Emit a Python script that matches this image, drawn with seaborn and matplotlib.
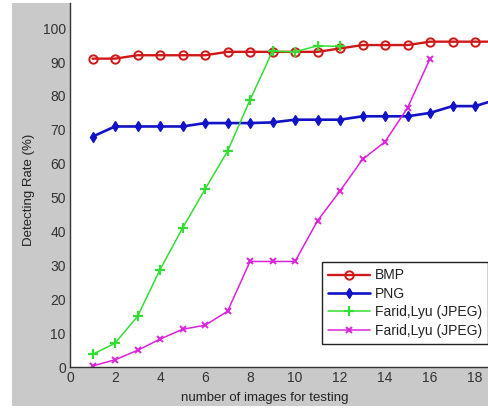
import matplotlib
matplotlib.use("Agg")
import matplotlib.pyplot as plt
import seaborn as sns
import pandas as pd
from matplotlib.patches import Rectangle

sns.set_style("white")
plt.rcParams['font.family'] = ['Liberation Sans', 'DejaVu Sans']

x_bmp = list(range(1, 20))
bmp = [91, 91, 92, 92, 92, 92, 93, 93, 93, 93, 93, 94, 95, 95, 95, 96, 96, 96, 96]
x_png = list(range(1, 20))
png = [68, 71, 71, 71, 71, 72, 72, 72, 72.2, 73, 73, 73, 74, 74, 74, 75, 77, 77, 79]
x_green = list(range(1, 13))
green = [3.8, 7.1, 15, 28.8, 41, 52.5, 63.7, 78.8, 93.2, 93, 94.8, 94.6]
x_mag = list(range(1, 17))
magenta = [0.4, 2.2, 5, 8.3, 11.2, 12.4, 16.5, 31.2, 31.2, 31.2, 43.2, 52, 61.3, 66.5, 76.5, 91]
labels = ["BMP", "PNG", "Farid,Lyu (JPEG)", "Farid,Lyu (JPEG)"]

W, H = 489, 408
fig = plt.figure(figsize=(W / 100, H / 100), dpi=100, facecolor='white')
fig.patches.append(Rectangle((12 / W, 2 / H), 1 - 12 / W, (405 - 2) / H,
                             transform=fig.transFigure, facecolor='#c9c9c9',
                             edgecolor='none', zorder=-10))
ax = fig.add_axes([70 / W, (H - 367.3) / H, (W - 70) / W, (367.3 - 3) / H])
ax.set_facecolor('white')

sns.lineplot(x=x_bmp, y=bmp, ax=ax, color='#d01818', lw=1.7, marker='o',
             markersize=6, markerfacecolor='none', markeredgecolor='#d01818',
             markeredgewidth=1.4, label=labels[0])
sns.lineplot(x=x_png, y=png, ax=ax, color='#1212c8', lw=1.9, marker='d',
             markersize=5.5, markerfacecolor='#1212c8', markeredgecolor='#1212c8',
             markeredgewidth=1, label=labels[1])
sns.lineplot(x=x_green, y=green, ax=ax, color='#33dd33', lw=1.1, marker='+',
             markersize=7, markeredgecolor='#33dd33', markeredgewidth=1.6,
             label=labels[2])
sns.lineplot(x=x_mag, y=magenta, ax=ax, color='#dd22dd', lw=1.1, marker='x',
             markersize=4, markeredgecolor='#dd22dd', markeredgewidth=1.4,
             label=labels[3])

ax.set_xlim(0, 18.62)
ax.set_ylim(0, 107.4)
ax.set_xticks(range(0, 19, 2))
ax.set_yticks(range(0, 101, 10))
ax.tick_params(direction='in', length=4, width=1, colors='#333333',
               labelsize=10, pad=3)
for s in ['top', 'right']:
    ax.spines[s].set_visible(False)
for s in ['left', 'bottom']:
    ax.spines[s].set_color('#333333')
    ax.spines[s].set_linewidth(1)

fig.text(265 / W, 1 - 398 / H, "number of images for testing", ha='center',
         va='center', fontsize=9.5, color='#222222')
fig.text(29 / W, 1 - 190 / H, "Detecting Rate (%)", ha='center', va='center',
         rotation=90, fontsize=9.5, color='#222222')
ax.set_xlabel('')
ax.set_ylabel('')

leg = ax.legend(loc='lower right', bbox_to_anchor=(0.998, 0.064),
                borderaxespad=0, frameon=True, fancybox=False, fontsize=10,
                handlelength=3, handletextpad=0.35, labelspacing=0.32,
                borderpad=0.45)
leg.get_frame().set_edgecolor('#222222')
leg.get_frame().set_linewidth(1)
leg.get_frame().set_facecolor('white')
leg.get_frame().set_alpha(1)
for t in leg.get_texts():
    t.set_color('#222222')

fig.savefig('out.png', dpi=100, facecolor='white')
